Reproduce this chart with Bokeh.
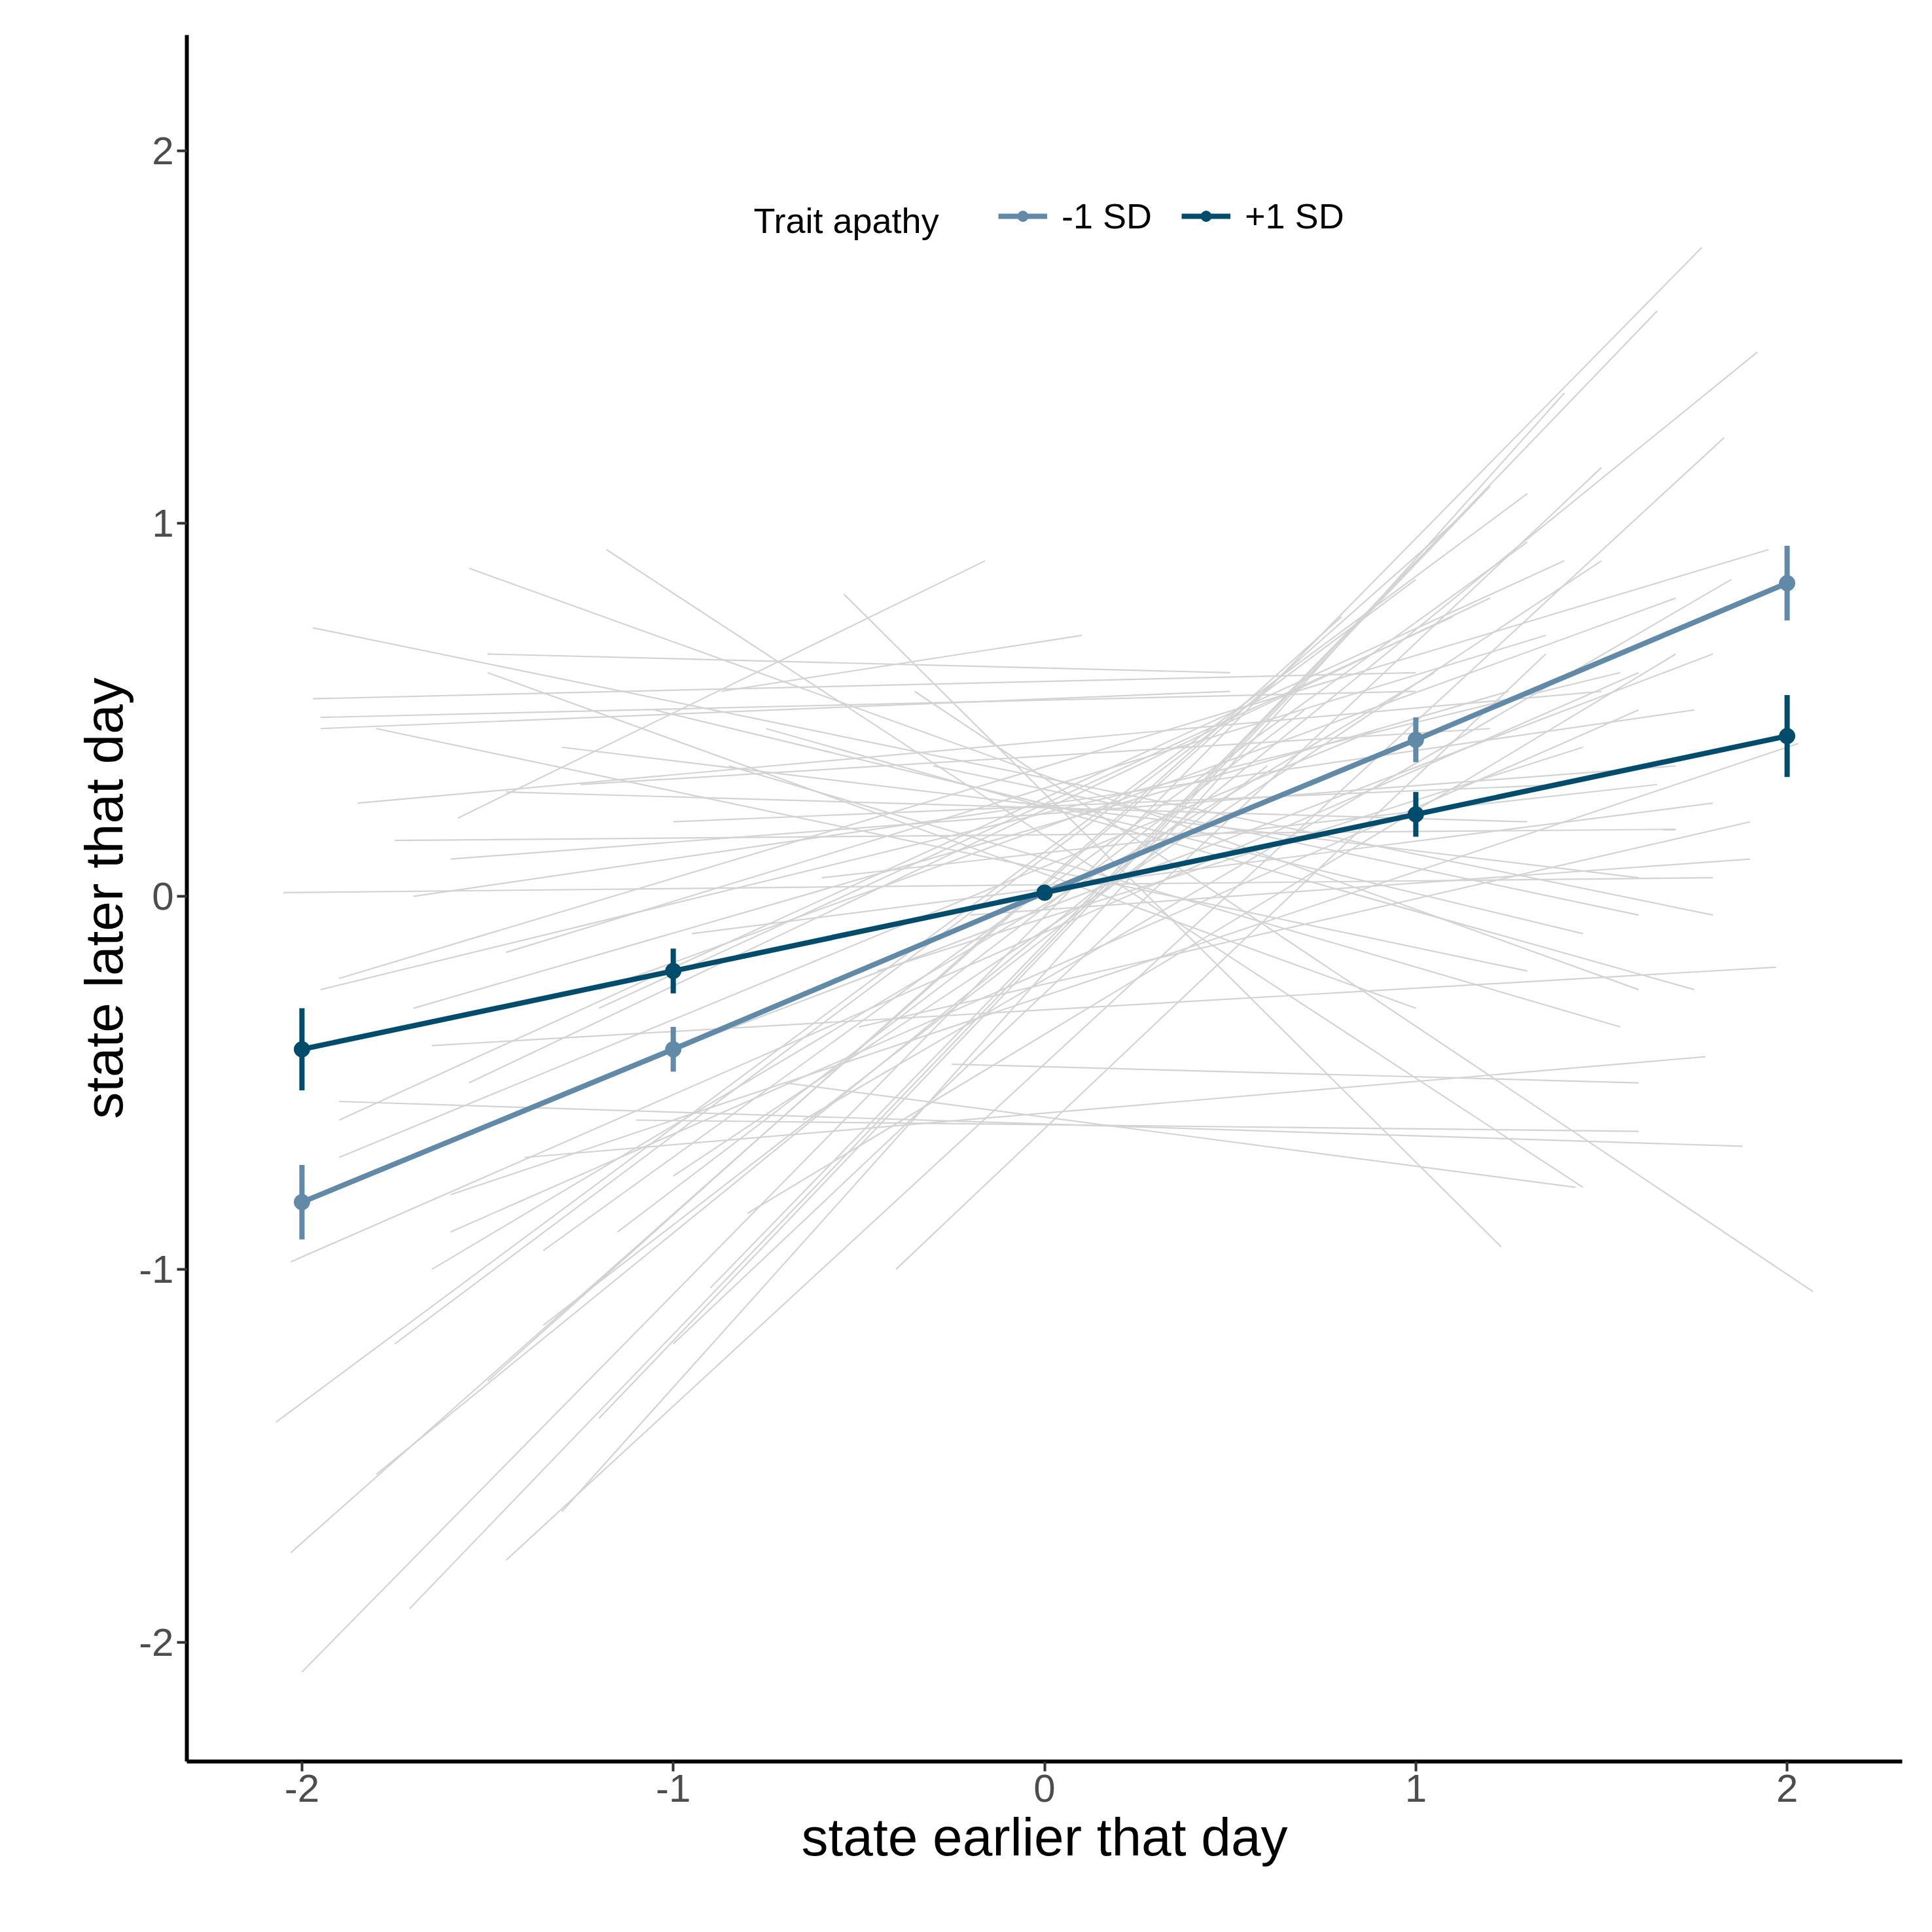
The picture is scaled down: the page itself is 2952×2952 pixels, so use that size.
from bokeh.plotting import figure
from bokeh.models import Legend, LegendItem, Label, Range1d, FixedTicker, ColumnDataSource
from bokeh.embed import file_html
from bokeh.resources import INLINE

# individual participant lines: x0, y0, x1, y1
seg_x0 = [-2.07, -2.03, -2.03, -2.05, -1.97, -1.97, -1.95, -1.9, -1.55, -1.18, -1.58, -0.54, -0.87, -0.35,
          -2.0, -1.71, -1.8, -1.45, -1.3, -1.9, -1.6, -1.2, -1.0, -0.9, -1.75, -1.5, -1.35, -0.8, -1.9, -1.65,
          -1.4, -1.1, -0.7, -0.5, -1.85, -1.6, -1.25, -1.0, -0.3, -1.95, -1.7, -1.45, -1.2, -0.95, -0.6, -0.2,
          -1.8, -1.5, -1.3, -1.05, -0.75, -1.9, -1.55, -1.15, -0.4, -1.65, -1.35, -1.0, -0.65, -1.75, -1.45,
          -0.85, -1.95, -1.6, -1.1, -0.45, -1.7, -1.2, -0.25, -1.5]
seg_y0 = [-1.41, -1.76, -0.98, 0.01, 0.72, 0.53, 0.45, -0.6, 0.88, 0.93, 0.21, 0.81, 0.55, 0.55,
          -2.08, -1.91, -1.55, -1.78, -1.65, -0.22, -0.8, -1.4, -1.2, -1.05, -1.2, -1.3, -0.95, -0.85, -0.55, -0.4,
          -0.7, -0.6, -0.5, -0.35, 0.25, 0.1, 0.3, 0.2, 0.35, -0.25, 0.0, -0.15, -0.3, -0.1, 0.05, -0.05,
          0.45, 0.6, 0.4, 0.5, 0.45, -0.7, -0.5, -0.9, -1.0, -1.0, -1.15, -0.75, -0.6, 0.15, 0.28,
          0.35, 0.48, -0.9, -0.45, -0.2, -0.3, -0.25, -0.45, 0.65]
seg_x1 = [1.3, 1.1, 1.6, 1.8, 1.8, 1.0, 0.5, 1.4, 1.6, 1.45, -0.16, 1.23, 0.1, 2.07,
          1.77, 1.65, 1.92, 1.83, 1.4, 1.95, 2.03, 1.2, 1.5, 1.1, 1.0, 0.8, 1.3, 1.7, 1.88, 1.97,
          1.78, 1.6, 1.43, 1.9, 1.5, 1.7, 1.2, 1.4, 1.6, 1.55, 1.75, 1.35, 1.1, 1.8, 1.65, 1.9,
          1.3, 1.0, 1.6, 1.45, 1.75, 0.9, 1.2, 0.7, 1.35, 1.05, 0.6, 1.5, 1.85, 1.7, 1.3,
          1.55, 1.0, 1.6, 1.8, 1.45, 1.25, 1.7, 1.6, 0.5]
seg_y1 = [1.08, 1.0, 0.6, 0.05, -0.05, 0.6, 0.55, 0.9, -0.25, -0.78, 0.9, -0.94, 0.7, -1.06,
          1.74, 1.57, 1.46, 1.23, 1.35, 0.93, 0.41, 1.1, 1.15, 1.0, 0.85, 0.75, 0.95, 0.65, -0.67, -0.19,
          -0.43, -0.63, -0.78, 0.2, 0.55, 0.35, 0.45, 0.3, -0.05, 0.6, 0.5, 0.7, 0.75, 0.25, 0.3, 0.1,
          -0.2, -0.3, 0.05, -0.1, -0.25, 0.45, 0.8, 0.5, 0.65, 0.6, 0.35, 0.9, 0.85, 0.18, 0.2,
          -0.35, 0.55, 0.5, 0.65, 0.4, 0.55, 0.8, -0.5, 0.6]

# model predictions
pred_x = [-2, -1, 0, 1, 2]
low_y = [-0.82, -0.41, 0.01, 0.42, 0.84]
low_err = [0.10, 0.06, 0.01, 0.06, 0.10]
high_y = [-0.41, -0.20, 0.01, 0.22, 0.43]
high_err = [0.11, 0.06, 0.01, 0.06, 0.11]
low_col = "#6189A8"
high_col = "#004C6D"
tick_vals = [-2, -1, 0, 1, 2]
tick_text = {-2: "-2", -1: "-1", 0: "0", 1: "1", 2: "2"}

p = figure(width=2936, height=2936, output_backend="svg", toolbar_location=None,
           x_range=Range1d(-2.31, 2.31), y_range=Range1d(-2.32, 2.31),
           min_border_left=285, min_border_right=30, min_border_top=53, min_border_bottom=245)
p.xgrid.visible = False
p.ygrid.visible = False
p.outline_line_color = None

p.segment(seg_x0, seg_y0, seg_x1, seg_y1, line_color="#D3D3D3", line_width=2.2)

items = []
for ys, err, col, lab in [(low_y, low_err, low_col, "-1 SD"), (high_y, high_err, high_col, "+1 SD")]:
    src = ColumnDataSource(dict(x=pred_x, y=ys, lo=[a - b for a, b in zip(ys, err)],
                                hi=[a + b for a, b in zip(ys, err)]))
    p.segment("x", "lo", "x", "hi", source=src, line_color=col, line_width=8)
    r1 = p.line("x", "y", source=src, line_color=col, line_width=8)
    r2 = p.scatter("x", "y", source=src, size=24, color=col)
    items.append(LegendItem(label=lab, renderers=[r1, r2]))

leg = Legend(items=items, orientation="horizontal", location=(1240, 2330),
             label_text_font="Liberation Sans", label_text_font_size="54px", label_text_color="black",
             glyph_width=75, glyph_height=40, spacing=45, padding=10, label_standoff=22,
             background_fill_alpha=0, border_line_color=None)
p.add_layout(leg, "center")
p.add_layout(Label(x=866, y=2355, x_units="screen", y_units="screen", text="Trait apathy",
                   text_font="Liberation Sans", text_font_size="54px", text_baseline="middle",
                   text_color="black"))

for ax in (p.xaxis, p.yaxis):
    ax.axis_line_width = 6
    ax.axis_line_color = "black"
    ax.major_tick_line_width = 4
    ax.major_tick_line_color = "#333333"
    ax.major_tick_out = 15
    ax.major_tick_in = 0
    ax.minor_tick_line_color = None
    ax.major_label_text_font = "Liberation Sans"
    ax.major_label_text_font_size = "60px"
    ax.major_label_text_color = "#4D4D4D"
    ax.axis_label_text_font = "Liberation Sans"
    ax.axis_label_text_font_size = "82px"
    ax.axis_label_text_font_style = "normal"
    ax.axis_label_text_color = "black"
    ax.ticker = FixedTicker(ticks=tick_vals)
    ax.major_label_overrides = tick_text
p.xaxis.axis_label = "state earlier that day"
p.yaxis.axis_label = "state later that day"
p.yaxis.major_label_orientation = 0

open("out.html", "w").write(file_html(p, INLINE))
